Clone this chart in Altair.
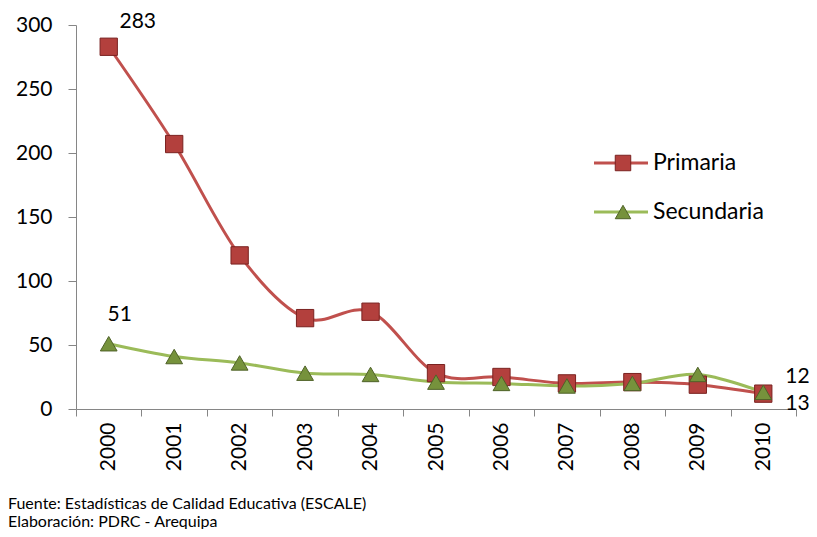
import altair as alt
import pandas as pd

years = ["2000", "2001", "2002", "2003", "2004", "2005", "2006", "2007", "2008", "2009", "2010"]
primaria = [283, 207, 120, 71, 76, 28, 25, 20, 21, 19, 12]
secundaria = [51, 41, 36, 28, 27, 21, 20, 18, 20, 27, 13]
series_names = ["Primaria", "Secundaria"]
y_ticks = [0, 50, 100, 150, 200, 250, 300]
footer_lines = ["Fuente: Estadísticas de Calidad Educativa (ESCALE)", "Elaboración: PDRC - Arequipa"]

FONT = "Lato"
RED_LINE = "#C0504D"
RED_FILL = "#B3403D"
RED_STROKE = "#7A2220"
GRN_LINE = "#9BBB59"
GRN_FILL = "#76923C"
GRN_STROKE = "#4F6228"

df_p = pd.DataFrame({"year": years, "value": primaria, "serie": "Primaria"})
df_s = pd.DataFrame({"year": years, "value": secundaria, "serie": "Secundaria"})

xscale = alt.Scale(type="band", domain=years, paddingInner=0, paddingOuter=0)
yscale = alt.Scale(domain=[0, 300])

x_enc = alt.X("year:N", scale=xscale, bandPosition=0.5,
              axis=alt.Axis(title=None, labelAngle=270, tickBand="extent", tickSize=7,
                            labelPadding=6, labelFontSize=21, labelFont=FONT,
                            labelColor="#000000", domainColor="#868686", tickColor="#868686",
                            grid=False))
y_enc = alt.Y("value:Q", scale=yscale,
              axis=alt.Axis(title=None, values=y_ticks, tickSize=8, labelPadding=16,
                            labelFontSize=21, labelFont=FONT, labelColor="#000000",
                            domainColor="#868686", tickColor="#868686", grid=False))

def series_layers(df, line_col, fill, stroke, shape, size):
    base = alt.Chart(df).encode(x=x_enc, y=y_enc)
    line = base.mark_line(color=line_col, strokeWidth=3, interpolate="cardinal")
    pts = base.mark_point(shape=shape, size=size, filled=True, fill=fill,
                          stroke=stroke, strokeWidth=1, opacity=1)
    return line, pts

lp, pp = series_layers(df_p, RED_LINE, RED_FILL, RED_STROKE, "square", 300)
ls, ps = series_layers(df_s, GRN_LINE, GRN_FILL, GRN_STROKE, "triangle-up", 280)

def label(df, idx, dx, dy, align="center"):
    d = df.iloc[[idx]]
    return alt.Chart(d).mark_text(fontSize=21, font=FONT, color="#000000", dx=dx, dy=dy,
                                  align=align, baseline="middle").encode(
        x=x_enc, y=y_enc, text="value:Q")

lab1 = label(df_p, 0, 29, -25)
lab2 = label(df_s, 0, 11, -29)
lab3 = label(df_p, 10, 22, -17, "left")
lab4 = label(df_s, 10, 22, 12, "left")

# legend
leg_items = []
for name, col, fill, stroke, shape, size, ypos in [
    ("Primaria", RED_LINE, RED_FILL, RED_STROKE, "square", 240, 138),
    ("Secundaria", GRN_LINE, GRN_FILL, GRN_STROKE, "triangle-up", 240, 187),
]:
    d = pd.DataFrame({"serie": [name]})
    leg_items.append(alt.Chart(d).mark_rule(color=col, strokeWidth=3).encode(
        x=alt.value(518), x2=alt.value(572), y=alt.value(ypos)))
    leg_items.append(alt.Chart(d).mark_point(shape=shape, size=size, filled=True, fill=fill,
                                             stroke=stroke, strokeWidth=1, opacity=1).encode(
        x=alt.value(547), y=alt.value(ypos)))
    leg_items.append(alt.Chart(d).mark_text(fontSize=23, font=FONT, color="#000000",
                                            align="left", baseline="middle").encode(
        x=alt.value(577), y=alt.value(ypos), text="serie:N"))

foot = []
for i, t in enumerate(footer_lines):
    d = pd.DataFrame({"t": [t]})
    foot.append(alt.Chart(d).mark_text(fontSize=16, font=FONT,
                                       color="#000000", align="left", baseline="middle").encode(
        x=alt.value(-68), y=alt.value(479 + 18 * i), text="t:N"))

chart = alt.layer(lp, ls, pp, ps, lab1, lab2, lab3, lab4, *leg_items, *foot).properties(
    width=720, height=384,
    background="white",
    autosize=alt.AutoSizeParams(type="none"),
    padding={"left": 68, "top": 17, "right": 13, "bottom": 120},
).configure_view(stroke=None)

chart.save("out.html", embed_options={"renderer": "svg", "actions": False})
